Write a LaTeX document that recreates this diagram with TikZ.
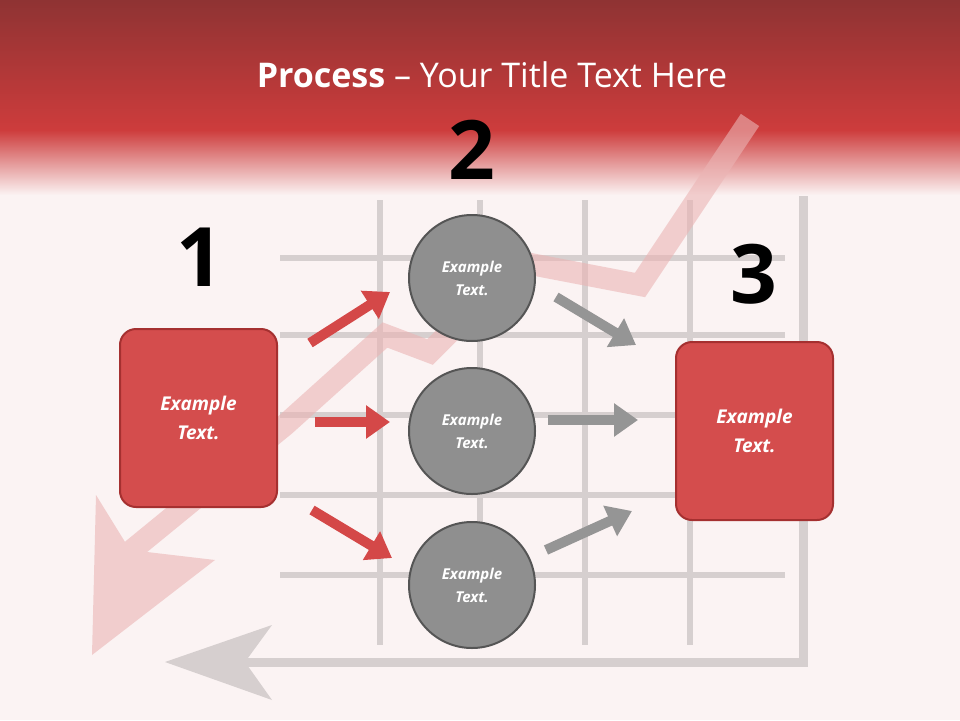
\documentclass[tikz,border=0pt]{standalone}
\usepackage{fontspec}
\setmainfont{Open Sans}
\usetikzlibrary{arrows.meta}
\definecolor{bg}{HTML}{FBF3F3}
\definecolor{rbox}{HTML}{D44D4D}
\definecolor{rborder}{HTML}{A53030}
\definecolor{cfill}{HTML}{8F8F8F}
\definecolor{cborder}{HTML}{555555}
\definecolor{grid}{HTML}{D6CFCF}
\definecolor{pinkline}{HTML}{EBB4B4}
\definecolor{rarrow}{HTML}{D44848}
\definecolor{garrow}{HTML}{959595}
\tikzset{
  sq/.style={draw=rborder, line width=2pt, fill=rbox, rounded corners=16pt, minimum width=157pt, minimum height=178pt, text=white, font=\bfseries\itshape\fontsize{19}{29}\selectfont, align=center},
  circ/.style={circle, draw=cborder, line width=2pt, fill=cfill, minimum size=126pt, text=white, font=\bfseries\itshape\fontsize{15}{23}\selectfont, align=center},
  num/.style={font=\bfseries\fontsize{82}{84}\selectfont, text=black},
  rarr/.style={draw=rarrow, line width=10pt, -{Triangle[length=24pt,width=32pt]}},
  garr/.style={draw=garrow, line width=10pt, -{Triangle[length=24pt,width=32pt]}},
}
\begin{document}
\begin{tikzpicture}[x=1pt,y=-1pt]
\useasboundingbox (0,0) rectangle (960,720);
\fill[bg] (0,0) rectangle (960,720);
% background chart
\begin{scope}[draw=grid, line width=6pt]
\foreach \x in {380,480,585,690} \draw (\x,200) -- (\x,645);
\foreach \y in {258,335,415,495,575} \draw (280,\y) -- (785,\y);
\draw[line width=9pt] (803,140) -- (803,662) -- (215,662);
\fill[grid] (803,120) -- (828,148) -- (778,148) -- cycle;
\fill[grid] (165,662) -- (272,625) -- (245,662) -- (272,700) -- cycle;
\end{scope}
% top banner
\shade[top color=red!45!black!80!white, bottom color={rgb,255:red,205;green,60;blue,60}] (0,0) rectangle (960,130);
\shade[top color={rgb,255:red,205;green,60;blue,60}, bottom color=bg] (0,130) rectangle (960,195);
\begin{scope}[transparency group, opacity=0.6]
\draw[pinkline, line width=22pt, line join=miter] (120,560) -- (285,425) -- (385,335) -- (430,352) -- (520,262) -- (640,285) -- (750,120);
\fill[pinkline] (92,655) -- (96,495) -- (130,550) -- (215,560) -- cycle;
\end{scope}
\node[text=white, font=\fontsize{34}{38}\selectfont] (title) at (492,75) {\textbf{Process} -- Your Title Text Here};
% numbers
\node[num] (n1) at (200,257) {1};
\node[num] (n2) at (472,150) {2};
\node[num] (n3) at (754,274) {3};
% boxes
\node[sq] (b1) at (198.5,418) {Example\\Text.};
\node[sq] (b3) at (754.5,431) {Example\\Text.};
\node[circ] (c1) at (472,278) {Example\\Text.};
\node[circ] (c2) at (472,431) {Example\\Text.};
\node[circ] (c3) at (472,585) {Example\\Text.};
% arrows
\coordinate (r1s) at (310,343); \coordinate (r1e) at (390,292);
\coordinate (r2s) at (315,422); \coordinate (r2e) at (390,422);
\coordinate (r3s) at (312,510); \coordinate (r3e) at (392,558);
\draw[rarr] (r1s) -- (r1e);
\draw[rarr] (r2s) -- (r2e);
\draw[rarr] (r3s) -- (r3e);
\coordinate (g1s) at (556,297); \coordinate (g1e) at (636,345);
\coordinate (g2s) at (548,420); \coordinate (g2e) at (638,420);
\coordinate (g3s) at (546,550); \coordinate (g3e) at (632,511);
\draw[garr] (g1s) -- (g1e);
\draw[garr] (g2s) -- (g2e);
\draw[garr] (g3s) -- (g3e);
\end{tikzpicture}
\end{document}
